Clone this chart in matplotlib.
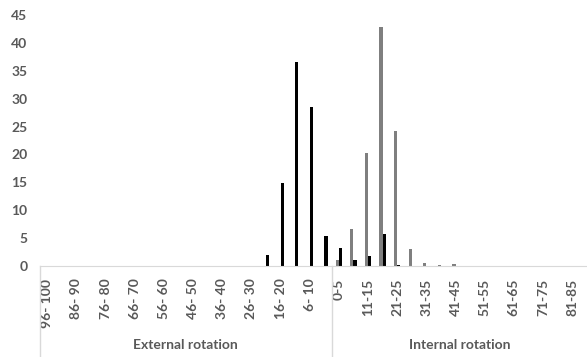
import numpy as np
import matplotlib
matplotlib.use("Agg")
import matplotlib.pyplot as plt
import matplotlib.transforms as mtransforms

# categorie (gradi di rotazione)
external_labels = ["96- 100", "91- 95", "86- 90", "81- 85", "76- 80", "71- 75",
                   "66- 70", "61- 65", "56- 60", "51- 55", "46- 50", "41- 45",
                   "36- 40", "31- 35", "26- 30", "21- 25", "16- 20", "11- 15",
                   "6- 10", "1- 5"]
internal_labels = ["0-5", "6-10", "11-15", "16-20", "21-25", "26-30", "31-35",
                   "36-40", "41-45", "46-50", "51-55", "56-60", "61-65",
                   "66-70", "71-75", "76-80", "81-85"]
group_names = ["External rotation", "Internal rotation"]

# serie nera
black_vals = [0, 0, 0, 0, 0, 0, 0, 0, 0, 0, 0, 0, 0, 0, 0,
              1.9, 14.8, 36.6, 28.5, 5.3,
              3.2, 1.0, 1.75, 5.8, 0.2, 0, 0, 0, 0, 0, 0, 0, 0, 0, 0, 0, 0]
# serie grigia
gray_vals = [0, 0, 0, 0, 0, 0, 0, 0, 0, 0, 0, 0, 0, 0, 0, 0, 0, 0, 0, 0,
             1.0, 6.6, 20.2, 42.8, 24.2, 3.1, 0.5, 0.2, 0.4, 0, 0, 0, 0, 0, 0, 0, 0]

labels = external_labels + internal_labels
x = np.arange(len(labels))
txt = "#595959"
line_c = "#d9d9d9"

plt.rcParams["font.family"] = ["Lato", "DejaVu Sans"]

fig = plt.figure(figsize=(5.87, 3.57), dpi=100)
ax = fig.add_axes([40 / 587, 1 - 266 / 357, 1 - 40 / 587, 251 / 357])

w = 0.22
ax.bar(x - w / 2, gray_vals, width=w, color="#7f7f7f")
ax.bar(x + w / 2, black_vals, width=w, color="black")

ax.set_ylim(0, 45)
ax.set_yticks(np.arange(0, 46, 5))
ax.set_xlim(-0.5, (587 - 40) / 14.58 - 0.5)
ax.set_xticks(x[::2], labels[::2], rotation=90, va="top", ha="center")

for s in ["top", "right", "left"]:
    ax.spines[s].set_visible(False)
ax.spines["bottom"].set_color(line_c)
ax.tick_params(axis="both", length=0, colors=txt, labelsize=10)
ax.tick_params(axis="y", pad=9)
ax.tick_params(axis="x", pad=9)
for t in ax.get_xticklabels() + ax.get_yticklabels():
    t.set_fontweight("bold")

# separatori dei gruppi
trans = mtransforms.blended_transform_factory(ax.transData, ax.transAxes)
n_ext = len(external_labels)
for xs in [-0.5, n_ext - 0.5]:
    ax.plot([xs, xs], [0, -0.37], color=line_c, lw=1, transform=trans, clip_on=False)

ax.text((n_ext - 1) / 2, -0.315, group_names[0], transform=trans, ha="center",
        va="center", color=txt, fontsize=10, fontweight="bold")
ax.text((n_ext - 0.5 + ax.get_xlim()[1]) / 2, -0.315, group_names[1], transform=trans,
        ha="center", va="center", color=txt, fontsize=10, fontweight="bold")

fig.savefig("out.png", dpi=100)
